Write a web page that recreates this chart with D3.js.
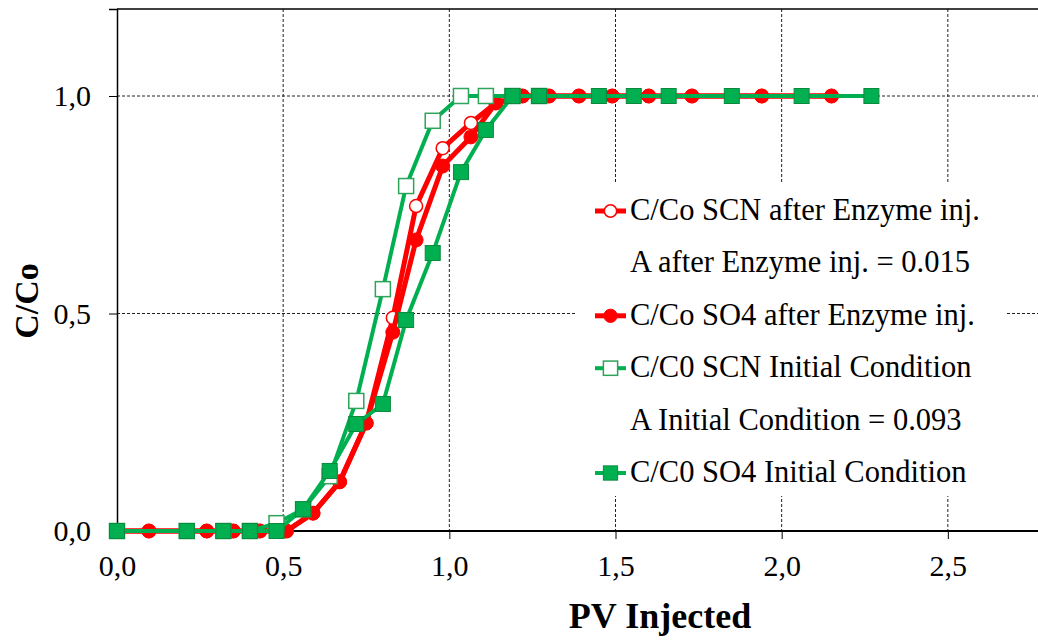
<!DOCTYPE html>
<html>
<head>
<meta charset="utf-8">
<script src="https://cdn.jsdelivr.net/npm/d3@7"></script>
<style>
  html, body { margin: 0; padding: 0; background: #fff; }
  svg { display: block; }
  text { font-family: "Liberation Serif", "Times New Roman", serif; fill: #000; }
</style>
</head>
<body>
<svg id="chart" width="1038" height="641"></svg>
<script>
// ---- data ----
const redX = [0, 0.096, 0.21, 0.27, 0.35, 0.43, 0.51, 0.59, 0.67, 0.75, 0.83, 0.90, 0.98, 1.065, 1.14, 1.22, 1.30, 1.39, 1.49, 1.60, 1.73, 1.94, 2.15];
const scnAfterY = [0, 0, 0, 0, 0, 0, 0, 0.041, 0.113, 0.248, 0.49, 0.747, 0.88, 0.938, 0.984, 1, 1, 1, 1, 1, 1, 1, 1];
const so4AfterY = [0, 0, 0, 0, 0, 0, 0, 0.041, 0.113, 0.248, 0.457, 0.669, 0.839, 0.906, 0.984, 1, 1, 1, 1, 1, 1, 1, 1];

const greenX = [0, 0.21, 0.32, 0.40, 0.48, 0.56, 0.64, 0.72, 0.80, 0.87, 0.95, 1.035, 1.11, 1.19, 1.27, 1.45, 1.555, 1.66, 1.85, 2.06, 2.27];
const scnInitY = [0, 0, 0, 0, 0.018, 0.05, 0.126, 0.299, 0.556, 0.793, 0.943, 1, 1, 1, 1];
const so4InitY = [0, 0, 0, 0, 0, 0.05, 0.138, 0.246, 0.292, 0.485, 0.639, 0.825, 0.922, 1, 1, 1, 1, 1, 1, 1, 1];

const xTicks = [0, 0.5, 1.0, 1.5, 2.0, 2.5];
const yTicks = [0, 0.5, 1.0];
const legendLabels = [
  "C/Co SCN after Enzyme inj.",
  "A after Enzyme inj. = 0.015",
  "C/Co SO4 after Enzyme inj.",
  "C/C0 SCN Initial Condition",
  "A Initial Condition = 0.093",
  "C/C0 SO4 Initial Condition"
];
const legendMarkers = ["openCircle", null, "filledCircle", "openSquare", null, "filledSquare"];

// ---- setup ----
const RED = "#ff0000", GREEN = "#00b050", DKGREEN = "#0b8a3d";
const svg = d3.select("#chart");
const x = d3.scaleLinear().domain([0, 3]).range([117, 1114]);
const y = d3.scaleLinear().domain([0, 1.2]).range([531, 9]);
const fmt = v => d3.format(".1f")(v).replace(".", ",");

// gridlines
const grid = svg.append("g");
grid.selectAll("line.vx").data(xTicks.filter(t => t > 0)).join("line")
  .attr("x1", d => x(d)).attr("x2", d => x(d)).attr("y1", y(1.2)).attr("y2", y(0))
  .attr("stroke", "#222").attr("stroke-width", 1).attr("stroke-dasharray", "3,2");
grid.selectAll("line.hy").data(yTicks.filter(t => t > 0)).join("line")
  .attr("x1", x(0)).attr("x2", 1038).attr("y1", d => y(d)).attr("y2", d => y(d))
  .attr("stroke", "#222").attr("stroke-width", 1).attr("stroke-dasharray", "3,2");

// top border
svg.append("line").attr("x1", x(0)).attr("x2", 1038).attr("y1", y(1.2)).attr("y2", y(1.2))
  .attr("stroke", "#000").attr("stroke-width", 1.5);

// legend background (covers gridlines)
svg.append("rect").attr("x", 577).attr("y", 183).attr("width", 430).attr("height", 313).attr("fill", "#fff");

// axes
const xAxis = d3.axisBottom(x).tickValues(xTicks).tickFormat(fmt).tickSizeOuter(0).tickSize(8).tickPadding(22);
const gx = svg.append("g").attr("transform", `translate(0,${y(0)})`).call(xAxis);
gx.select(".domain").attr("d", `M${x(0)},0H1038`).attr("stroke", "#000").attr("stroke-width", 2);
gx.selectAll(".tick line").attr("stroke", "#000");
gx.selectAll(".tick text").style("font-family", "'Liberation Serif', serif").style("font-size", "30px").attr("dy", "0.71em").attr("y", 24);

const yAxis = d3.axisLeft(y).tickValues(yTicks).tickFormat(fmt).tickSizeOuter(0).tickSize(8).tickPadding(18);
const gy = svg.append("g").attr("transform", `translate(${x(0)},0)`).call(yAxis);
gy.select(".domain").attr("stroke", "#000").attr("stroke-width", 1.5);
gy.selectAll(".tick line").attr("stroke", "#000");
gy.selectAll(".tick text").style("font-family", "'Liberation Serif', serif").style("font-size", "30px");

// axis titles
svg.append("text").attr("x", 660).attr("y", 628).attr("text-anchor", "middle")
  .style("font-size", "36px").style("font-weight", "bold").text("PV Injected");
svg.append("text").attr("transform", "translate(38,301) rotate(-90)").attr("text-anchor", "middle")
  .style("font-size", "34px").style("font-weight", "bold").text("C/Co");

// series
const series = [
  { xs: redX, ys: scnAfterY, color: RED, width: 5, marker: "openCircle" },
  { xs: redX, ys: so4AfterY, color: RED, width: 5, marker: "filledCircle" },
  { xs: greenX, ys: scnInitY, color: GREEN, width: 4, marker: "openSquare" },
  { xs: greenX, ys: so4InitY, color: GREEN, width: 4, marker: "filledSquare" }
];

function drawMarker(g, type, cx, cy, s) {
  if (type === "openCircle") {
    g.append("circle").attr("cx", cx).attr("cy", cy).attr("r", 6.5 * s).attr("fill", "#fff").attr("stroke", RED).attr("stroke-width", 1.5);
  } else if (type === "filledCircle") {
    g.append("circle").attr("cx", cx).attr("cy", cy).attr("r", 7 * s).attr("fill", RED).attr("stroke", RED).attr("stroke-width", 1);
  } else if (type === "openSquare") {
    const h = 7.5 * s;
    g.append("rect").attr("x", cx - h).attr("y", cy - h).attr("width", 2 * h).attr("height", 2 * h).attr("fill", "#fff").attr("stroke", "#2ea35a").attr("stroke-width", 1.5);
  } else if (type === "filledSquare") {
    const h = 7.5 * s;
    g.append("rect").attr("x", cx - h).attr("y", cy - h).attr("width", 2 * h).attr("height", 2 * h).attr("fill", GREEN).attr("stroke", DKGREEN).attr("stroke-width", 1);
  }
}

series.forEach(sr => {
  const pts = sr.ys.map((v, i) => [sr.xs[i], v]);
  const g = svg.append("g");
  g.append("path").datum(pts)
    .attr("d", d3.line().x(d => x(d[0])).y(d => y(d[1])))
    .attr("fill", "none").attr("stroke", sr.color).attr("stroke-width", sr.width).attr("stroke-linejoin", "round");
  pts.forEach(p => drawMarker(g, sr.marker, x(p[0]), y(p[1]), 1));
});

// legend
const lg = svg.append("g");
legendLabels.forEach((lab, i) => {
  const by = 220 + i * 52.4;
  const my = by - 9;
  const m = legendMarkers[i];
  if (m) {
    const col = (m === "openCircle" || m === "filledCircle") ? RED : GREEN;
    lg.append("line").attr("x1", 595).attr("x2", 626).attr("y1", my).attr("y2", my)
      .attr("stroke", col).attr("stroke-width", m.includes("Circle") ? 5 : 4);
    drawMarker(lg, m, 610.5, my, 0.95);
  }
  lg.append("text").attr("x", 630).attr("y", by).style("font-size", "30.5px").text(lab);
});
</script>
</body>
</html>
